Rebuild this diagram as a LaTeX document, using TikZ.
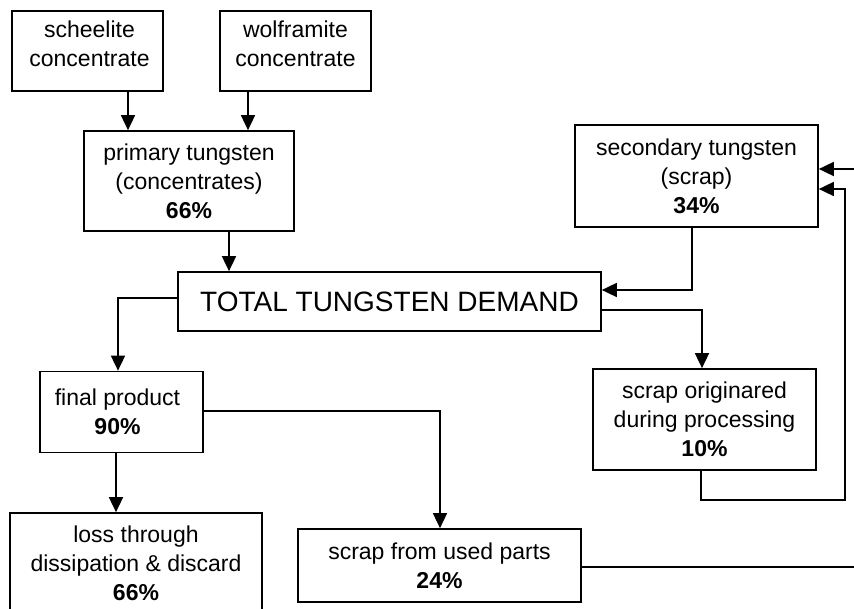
\documentclass[tikz,border=0pt]{standalone}
\usepackage{fontspec}
\setmainfont{Liberation Sans}
\usetikzlibrary{arrows.meta}

\tikzset{
  box/.style={draw, line width=1.7pt, inner sep=0pt, align=center,
    font=\fontsize{23}{29}\selectfont},
  txt/.style={inner sep=0pt, align=center, font=\fontsize{23}{29}\selectfont},
  bigbox/.style={box, font=\fontsize{28}{32}\selectfont},
  arr/.style={line width=1.7pt, -{Triangle[length=15pt,width=14pt]}},
}
\newcommand{\pct}[1]{\textbf{#1}}

\begin{document}
\begin{tikzpicture}[x=1pt, y=-1pt]
  \useasboundingbox (0,0) rectangle (854,609);
  \fill[white] (0,0) rectangle (854,609);
  \clip (0,0) rectangle (854,609);

  % ore concentrates (text sits a little above the middle)
  \node[box, minimum width=151pt, minimum height=80pt] (sch) at (87.5,51) {};
  \node[txt] (schT) at ([xshift=2pt,yshift=7pt]sch.center) {scheelite\\concentrate};
  \node[box, minimum width=151pt, minimum height=80pt] (wolf) at (295.5,51) {};
  \node[txt] (wolfT) at ([yshift=7pt]wolf.center) {wolframite\\concentrate};

  % primary and secondary sources
  \node[box, minimum width=210pt, minimum height=100pt] (prim) at (189,181)
    {primary tungsten\\(concentrates)\\\pct{66\%}};
  \node[box, minimum width=243pt, minimum height=102pt] (sec) at (696.5,176)
    {secondary tungsten\\(scrap)\\\pct{34\%}};

  % total demand
  \node[bigbox, minimum width=423pt, minimum height=59pt] (total) at (389.5,301.5)
    {TOTAL TUNGSTEN DEMAND};

  % outputs
  \node[box, minimum width=163pt, minimum height=81pt] (final) at (121.5,412) {};
  \node[txt] (finalT) at ([xshift=-4pt]final.center) {final product\\\pct{90\%}};
  \node[box, minimum width=223pt, minimum height=101pt] (sorig) at (704.5,419.5)
    {scrap originared\\during processing\\\pct{10\%}};
  \node[box, minimum width=252pt, minimum height=100pt] (loss) at (136,563)
    {loss through\\dissipation \& discard\\\pct{66\%}};
  \node[box, minimum width=283pt, minimum height=73pt] (sused) at (439.5,565.5)
    {scrap from used parts\\\pct{24\%}};

  % connector end points
  \coordinate (c1) at ([xshift=40.5pt]sch.south);
  \coordinate (c2) at ([xshift=-47.5pt]wolf.south);
  \coordinate (c3) at ([xshift=40pt]prim.south);
  \coordinate (c4) at ([xshift=-4.5pt]sec.south);
  \coordinate (c7) at ([xshift=-5.5pt]final.south);
  \coordinate (c9) at ([xshift=-3.5pt]sorig.south);
  \coordinate (r1) at (845,500);
  \coordinate (r2) at (862,567);

  % flows
  \draw[arr] (c1) -- (c1 |- prim.north);
  \draw[arr] (c2) -- (c2 |- prim.north);
  \draw[arr] (c3) -- (c3 |- total.north);
  \draw[arr] (c4) |- ([yshift=11.5pt]total.east);
  \draw[arr] ([yshift=3.5pt]total.west) -| ([xshift=-3.5pt]final.north);
  \draw[arr] ([yshift=-8.5pt]total.east) -| ([xshift=-2.5pt]sorig.north);
  \draw[arr] (c7) -- (c7 |- loss.north);
  \draw[arr] ([yshift=1pt]final.east) -| ([xshift=0.5pt]sused.north);
  \draw[arr] (c9) |- (r1) |- ([yshift=-13pt]sec.east);
  \draw[arr] ([yshift=-1.5pt]sused.east) -- (r2) |- ([yshift=7pt]sec.east);
\end{tikzpicture}
\end{document}
